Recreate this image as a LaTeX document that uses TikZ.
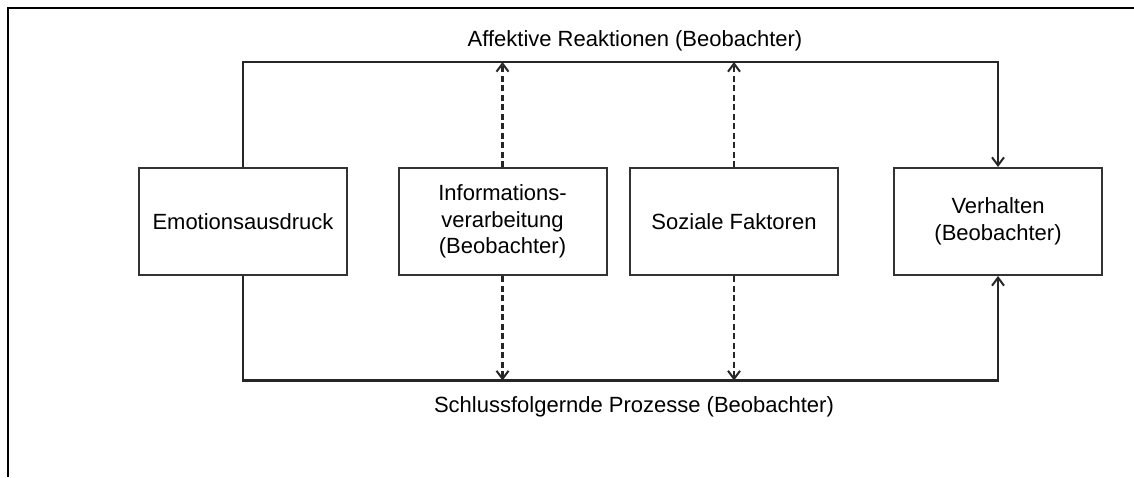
\documentclass[tikz,border=0pt]{standalone}
\usepackage{fontspec}
\setmainfont{Liberation Sans}
\usetikzlibrary{arrows.meta}
\begin{document}
\begin{tikzpicture}[x=1pt,y=-1pt,
  box/.style={draw=black!80,line width=2pt,minimum width=208pt,minimum height=107pt,inner sep=0pt,align=center,font=\fontsize{22}{26.5}\selectfont},
  lbl/.style={font=\fontsize{22}{26.5}\selectfont},
  conn/.style={draw=black!85,line width=2.4pt},
  dconn/.style={draw=black!85,line width=2.2pt,dash pattern=on 6pt off 3.5pt},
  tip/.style={-{Straight Barb[length=8pt,width=12pt,line width=2pt]}}]
\useasboundingbox (0,0) rectangle (1134,477);
\draw[line width=2.6pt] (8,477) -- (8,8) -- (1134,8);
\node[box] (emo) at (243,221.5) {Emotionsausdruck};
\node[box] (info) at (502.5,221.5) {Informations-\\verarbeitung\\(Beobachter)};
\node[box] (soz) at (734,221.5) {Soziale Faktoren};
\node[box] (verh) at (998,221.5) {Verhalten\\(Beobachter)};
\coordinate (tl) at (243,62);
\coordinate (tr) at (998,62);
\coordinate (bl) at (243,380.5);
\coordinate (br) at (998,380.5);
\draw[conn,tip] (emo.north) -- (tl) -- (tr) -- (verh.north);
\draw[conn,tip] (emo.south) -- (bl) -- (br) -- (verh.south);
\draw[dconn,tip] (info.north) -- (info.north |- tl);
\draw[dconn,tip] (soz.north) -- (soz.north |- tl);
\draw[dconn,tip] (info.south) -- (info.south |- bl);
\draw[dconn,tip] (soz.south) -- (soz.south |- bl);
\node[lbl] (top) at (635,41) {Affektive Reaktionen (Beobachter)};
\node[lbl] (bot) at (634,407) {Schlussfolgernde Prozesse (Beobachter)};
\end{tikzpicture}
\end{document}
